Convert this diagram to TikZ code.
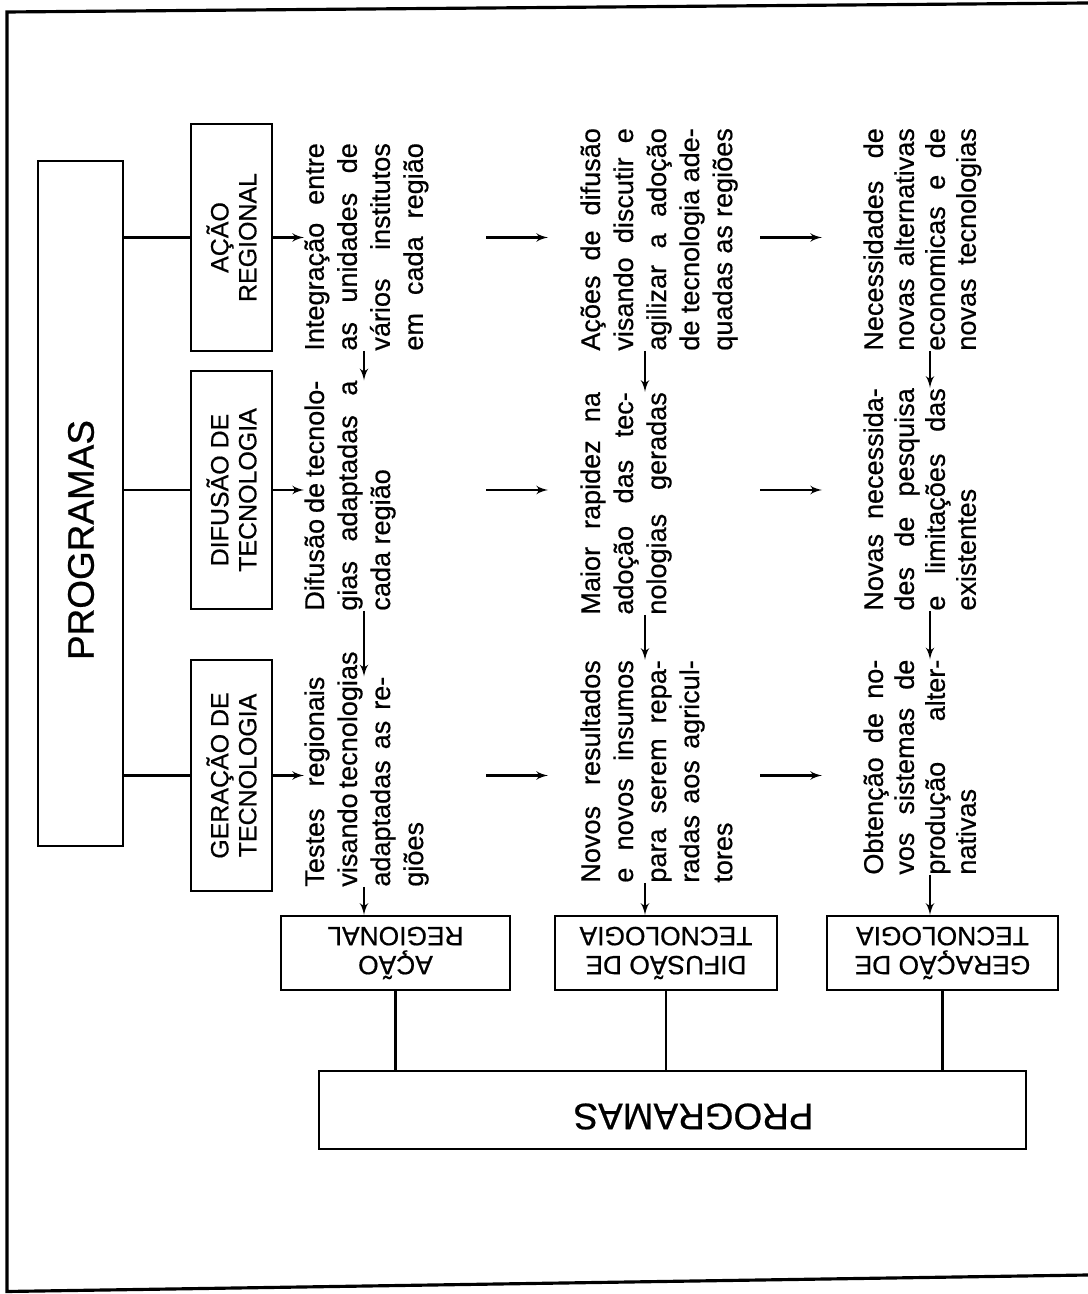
\documentclass[tikz,border=0pt]{standalone}
\usepackage{fontspec}
\setmainfont{Liberation Sans}[FakeBold=0.6]
\usetikzlibrary{arrows}
\newcommand{\jl}[2][4.45cm]{\makebox[#1][s]{#2}}

\begin{document}
\begin{tikzpicture}[>=latex',
		box/.style={draw, line width=1.3pt, align=center, inner sep=2pt, minimum height=1.62cm, font=\fontsize{14.2}{15.9}\selectfont},
		bigbox/.style={draw, line width=1.3pt, inner sep=2pt},
		big/.style={font=\fontsize{21}{24}\selectfont},
		txt/.style={anchor=north west, align=left, inner sep=0pt, rotate=90, font=\fontsize{15.4}{18.8}\selectfont},
		link/.style={line width=1.3pt}]
			\useasboundingbox (0,0) rectangle (21.76,25.88);
			\draw[line width=1.8pt] (21.76,25.82) -- (0.14,25.64) -- (0.14,0.05) -- (21.76,0.38);
			% programas, lado esquerdo
			\node[bigbox, rotate=90, minimum width=13.70cm, minimum height=1.70cm] (prog) at (1.61,15.81) {};
			\node[big, rotate=90] (progtxt) at (1.62,15.08) {PROGRAMAS};
			\node[box, rotate=90, minimum width=4.54cm] (acao) at (4.63,21.13) {AÇÃO\\REGIONAL};
			\node[box, rotate=90, minimum width=4.76cm] (difusao) at (4.63,16.08) {DIFUSÃO DE\\TECNOLOGIA};
			\node[box, rotate=90, minimum width=4.62cm] (geracao) at (4.63,10.37) {GERAÇÃO DE\\TECNOLOGIA};
			\draw[link] (prog.south |- acao) -- (acao.north);
			\draw[link] (prog.south |- difusao) -- (difusao.north);
			\draw[link] (prog.south |- geracao) -- (geracao.north);
			% textos
			\node[txt] (a3) at (6.08,18.86) {\jl[4.15cm]{Integração entre}\\ \jl[4.15cm]{as unidades de}\\ \jl[4.15cm]{vários institutos}\\ \jl[4.15cm]{em cada região}};
			\node[txt] (d3) at (6.08,13.66) {\jl[4.6cm]{Difusão de tecnolo-}\\ \jl[4.6cm]{gias adaptadas a}\\ cada região};
			\node[txt] (g3) at (6.08,8.14) {\jl[4.2cm]{Testes regionais}\\ \jl[4.2cm]{visando tecnologias}\\ \jl[4.2cm]{adaptadas as re-}\\ giões};
			\node[txt] (a4) at (11.60,18.86) {\jl{Ações de difusão}\\ \jl{visando discutir e}\\ \jl{agilizar a adoção}\\ \jl{de tecnologia ade-}\\ \jl{quadas as regiões}};
			\node[txt] (d4) at (11.60,13.58) {\jl{Maior rapidez na}\\ \jl{adoção das tec-}\\ \jl{nologias geradas}};
			\node[txt] (g4) at (11.60,8.22) {\jl{Novos resultados}\\ \jl{e novos insumos}\\ \jl{para serem repa-}\\ \jl{radas aos agricul-}\\ tores};
			\node[txt, font=\fontsize{15.4}{17.6}\selectfont] (a5) at (17.26,18.86) {\jl{Necessidades de}\\ \jl{novas alternativas}\\ \jl{economicas e de}\\ \jl{novas tecnologias}};
			\node[txt, font=\fontsize{15.4}{17.6}\selectfont] (d5) at (17.26,13.66) {\jl{Novas necessida-}\\ \jl{des de pesquisa}\\ \jl{e limitações das}\\ existentes};
			\node[txt, font=\fontsize{15.4}{17.6}\selectfont] (g5) at (17.26,8.38) {\jl[4.3cm]{Obtenção de no-}\\ \jl[4.3cm]{vos sistemas de}\\ \jl[4.3cm]{produção alter-}\\ nativas};
			\draw[link, ->] (acao.south) -- (acao.south -| a3.north);
			\draw[link, ->] (difusao.south) -- (difusao.south -| d3.north);
			\draw[link, ->] (geracao.south) -- (geracao.south -| g3.north);
			\draw[link, ->] (9.72,0 |- acao) -- (10.96,0 |- acao);
			\draw[link, ->] (9.72,0 |- difusao) -- (10.96,0 |- difusao);
			\draw[link, ->] (9.72,0 |- geracao) -- (10.96,0 |- geracao);
			\draw[link, ->] (15.20,0 |- acao) -- (16.44,0 |- acao);
			\draw[link, ->] (15.20,0 |- difusao) -- (16.44,0 |- difusao);
			\draw[link, ->] (15.20,0 |- geracao) -- (16.44,0 |- geracao);
			% programas, parte de baixo
			\node[box, rotate=180, minimum width=4.58cm, minimum height=1.48cm, font=\fontsize{15}{16.5}\selectfont] (ba) at (7.91,6.82) {AÇÃO\\REGIONAL};
			\node[box, rotate=180, minimum width=4.44cm, minimum height=1.48cm, font=\fontsize{15}{16.5}\selectfont] (bd) at (13.32,6.82) {DIFUSÃO DE\\TECNOLOGIA};
			\node[box, rotate=180, minimum width=4.62cm, minimum height=1.48cm, font=\fontsize{15}{16.5}\selectfont] (bg) at (18.85,6.82) {GERAÇÃO DE\\TECNOLOGIA};
			\node[bigbox, rotate=180, minimum width=14.14cm, minimum height=1.56cm] (bprog) at (13.45,3.68) {};
			\node[big, rotate=180] (bprogtxt) at (13.87,3.55) {PROGRAMAS};
			\draw[link] (ba.north) -- (ba.north |- bprog.south);
			\draw[link] (bd.north) -- (bd.north |- bprog.south);
			\draw[link] (bg.north) -- (bg.north |- bprog.south);
			\draw[link, ->] (7.28,0 |- a3.west) -- (7.28,0 |- d3.east);
			\draw[link, ->] (7.28,0 |- d3.west) -- (7.28,0 |- g3.east);
			\draw[link, ->] (7.28,0 |- g3.west) -- (7.28,0 |- ba.south);
			\draw[link, ->] (12.90,0 |- a4.west) -- (12.90,0 |- d4.east);
			\draw[link, ->] (12.90,0 |- d4.west) -- (12.90,0 |- g4.east);
			\draw[link, ->] (12.90,0 |- g4.west) -- (12.90,0 |- bd.south);
			\draw[link, ->] (18.60,0 |- a5.west) -- (18.60,0 |- d5.east);
			\draw[link, ->] (18.60,0 |- d5.west) -- (18.60,0 |- g5.east);
			\draw[link, ->] (18.60,0 |- g5.west) -- (18.60,0 |- bg.south);
		\end{tikzpicture}
\end{document}
